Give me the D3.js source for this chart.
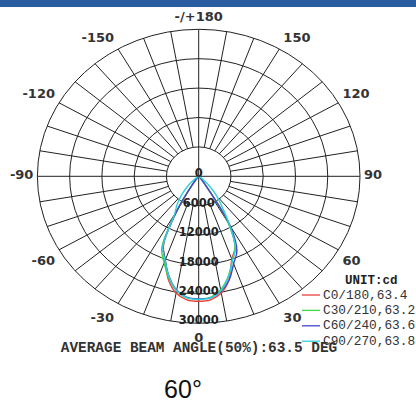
<!DOCTYPE html>
<html>
<head>
<meta charset="utf-8">
<script src="https://cdn.jsdelivr.net/npm/d3@7"></script>
<style>
  html, body { margin: 0; padding: 0; background: #fff; }
</style>
</head>
<body>
<div id="canvas"></div>
<script>
/* global d3 */
// gamma angles (deg), negative = left half of each C-plane
const gammas = [-90, -80, -70, -60, -55, -50, -45, -40, -35, -30, -25, -20, -15, -10, -5,
  0, 5, 10, 15, 20, 25, 30, 35, 40, 45, 50, 55, 60, 70, 80, 90];

// intensities (cd)
const c0 = [0, 10, 30, 60, 80, 100, 200, 500, 1800, 7800, 15500, 18200, 21800, 24200, 25300,
  25500, 25300, 24200, 21800, 18000, 16000, 11200, 2300, 500, 200, 100, 80, 60, 30, 10, 0];
const c30 = [0, 10, 30, 60, 80, 100, 200, 500, 2000, 8000, 16300, 18800, 21500, 23700, 24900,
  25000, 24800, 23500, 21200, 18300, 16000, 11000, 2500, 600, 200, 100, 80, 60, 30, 10, 0];
const c60 = [0, 10, 30, 60, 80, 100, 200, 500, 2000, 8200, 15600, 18200, 21200, 23600, 24800,
  25000, 24900, 23800, 21900, 19000, 16800, 11800, 2500, 600, 200, 100, 80, 60, 30, 10, 0];
const c90 = [0, 20, 60, 150, 400, 1200, 3000, 5000, 7000, 9000, 15800, 18300, 21300, 23700, 24900,
  25100, 24900, 23700, 21300, 18300, 16200, 11500, 7500, 5200, 3000, 1200, 400, 150, 60, 20, 0];

const seriesNames = ['C0/180,63.4', 'C30/210,63.2', 'C60/240,63.6', 'C90/270,63.8'];
const seriesColors = ['#e8403a', '#40d840', '#4545d0', '#30d0d8'];

const ringValues = [0, 6000, 12000, 18000, 24000, 30000];
const angleTicks = [180, 150, 120, 90, 60, 30, 0, -30, -60, -90, -120, -150];
const angleLabels = ['-/+180', '150', '120', '90', '60', '30', '0', '-30', '-60', '-90', '-120', '-150'];

const title = 'AVERAGE BEAM ANGLE(50%):63.5 DEG';
const unitLabel = 'UNIT:cd';
const caption = '60°';

(function() {
  'use strict';

  const w = 416;
  const h = 404;
  const cx = 198.7;
  const cy = 176.3;
  const rx = 161.3;
  const ry = 147;
  const rad = Math.PI / 180;

  // radial scales (the grid is an ellipse, so x and y differ)
  const rxScale = d3.scaleLinear().domain([0, 30000]).range([0, rx]);
  const ryScale = d3.scaleLinear().domain([0, 30000]).range([0, ry]);

  const px = (g, v) => cx + rxScale(v) * Math.sin(g * rad);
  const py = (g, v) => cy + ryScale(v) * Math.cos(g * rad);

  const svg = d3.select('#canvas')
    .append('svg')
    .attr('width', w)
    .attr('height', h);

  // top bar
  svg.append('rect')
    .attr('x', 0).attr('y', 0)
    .attr('width', w).attr('height', 7)
    .attr('fill', '#2a5d9f');

  const grid = svg.append('g')
    .attr('fill', 'none')
    .attr('stroke', '#222')
    .attr('stroke-width', 1);

  // rings
  grid.selectAll('ellipse')
    .data(ringValues.slice(1))
    .enter()
    .append('ellipse')
    .attr('cx', cx)
    .attr('cy', cy)
    .attr('rx', (d) => rxScale(d))
    .attr('ry', (d) => ryScale(d));

  // spokes every 10 deg, the main cross runs through the centre
  const spokes = d3.range(0, 360, 10);
  grid.selectAll('line')
    .data(spokes)
    .enter()
    .append('line')
    .attr('x1', (d) => px(d, d % 90 === 0 ? 0 : ringValues[1]))
    .attr('y1', (d) => py(d, d % 90 === 0 ? 0 : ringValues[1]))
    .attr('x2', (d) => px(d, 30000))
    .attr('y2', (d) => py(d, 30000));

  // curves
  const allSeries = [c0, c30, c60, c90];
  const line = d3.line()
    .x((d) => px(d[0], d[1]))
    .y((d) => py(d[0], d[1]))
    .curve(d3.curveCatmullRom.alpha(0.5));

  svg.append('g')
    .selectAll('path')
    .data(allSeries)
    .enter()
    .append('path')
    .attr('d', (s) => line(gammas.map((g, i) => [g, s[i]])))
    .attr('fill', 'none')
    .attr('stroke', (s, i) => seriesColors[i])
    .attr('stroke-width', 1.4);

  // ring labels
  svg.append('g')
    .selectAll('text')
    .data(ringValues)
    .enter()
    .append('text')
    .attr('x', cx)
    .attr('y', (d) => py(0, d) - 3)
    .attr('text-anchor', 'middle')
    .attr('dominant-baseline', 'central')
    .attr('font-family', 'DejaVu Sans, sans-serif')
    .attr('font-weight', 'bold')
    .attr('font-size', 11.5)
    .attr('fill', '#222')
    .text((d) => d);

  // angle labels, just outside the outer ring
  const labelDy = (d) => {
    const c = Math.cos(d * rad);
    if (Math.abs(c) < 0.01) return -1.5;
    return c > 0 ? 14 * Math.sqrt(c) + 0.5 : -11 * Math.sqrt(-c) - 1.5;
  };

  svg.append('g')
    .selectAll('text')
    .data(angleTicks)
    .enter()
    .append('text')
    .attr('x', (d) => {
      const s = Math.sin(d * rad);
      return px(d, 30000) + (Math.abs(s) < 0.01 ? 0 : (s > 0 ? 4 : -4));
    })
    .attr('y', (d) => py(d, 30000) + labelDy(d))
    .attr('text-anchor', (d) => {
      const s = Math.sin(d * rad);
      return Math.abs(s) < 0.01 ? 'middle' : (s > 0 ? 'start' : 'end');
    })
    .attr('dominant-baseline', 'central')
    .attr('font-family', 'DejaVu Sans, sans-serif')
    .attr('font-weight', 'bold')
    .attr('font-size', 13)
    .attr('fill', '#333')
    .text((d, i) => angleLabels[i]);

  // legend
  const legend = svg.append('g')
    .attr('font-family', 'Liberation Mono, monospace');

  legend.append('text')
    .attr('x', 345)
    .attr('y', 284)
    .attr('font-size', 12.5)
    .attr('font-weight', 'bold')
    .attr('fill', '#222')
    .text(unitLabel);

  const items = legend.selectAll('g.item')
    .data(seriesNames)
    .enter()
    .append('g')
    .attr('class', 'item')
    .attr('transform', (d, i) => 'translate(0,' + (295 + i * 15.4) + ')');

  items.append('line')
    .attr('x1', 302).attr('x2', 320)
    .attr('y1', 0).attr('y2', 0)
    .attr('stroke', (d, i) => seriesColors[i])
    .attr('stroke-width', 1.3);

  items.append('text')
    .attr('x', 323)
    .attr('y', 0)
    .attr('dominant-baseline', 'central')
    .attr('font-size', 12.8)
    .attr('fill', '#333')
    .text((d) => d);

  // title under the chart
  svg.append('text')
    .attr('x', 199)
    .attr('y', 352)
    .attr('text-anchor', 'middle')
    .attr('font-family', 'Liberation Mono, monospace')
    .attr('font-weight', 'bold')
    .attr('font-size', 14.4)
    .attr('fill', '#333')
    .text(title);

  svg.append('text')
    .attr('x', 183)
    .attr('y', 398)
    .attr('text-anchor', 'middle')
    .attr('font-family', 'Liberation Sans, Arial, sans-serif')
    .attr('font-size', 25)
    .attr('fill', '#111')
    .text(caption);
}());
</script>
</body>
</html>
